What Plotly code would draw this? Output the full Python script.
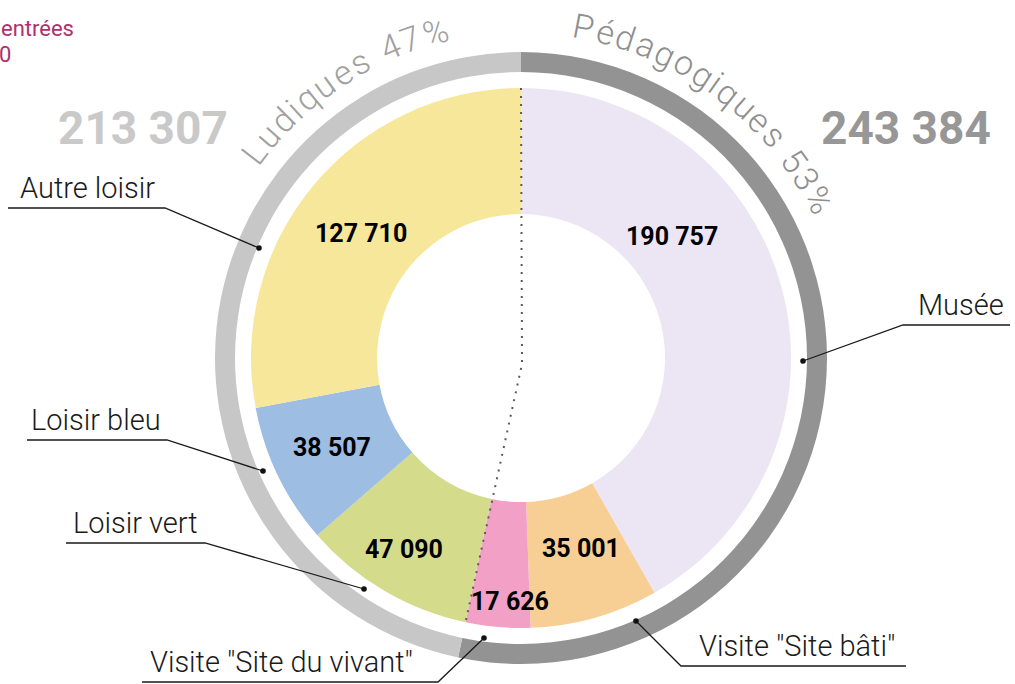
import math
import plotly.graph_objects as go

# ---------------- data ----------------
categories = ["Musée", 'Visite "Site bâti"', 'Visite "Site du vivant"',
              "Loisir vert", "Loisir bleu", "Autre loisir"]
entries = [190757, 35001, 17626, 47090, 38507, 127710]
groups = ["Pédagogiques", "Pédagogiques", "Pédagogiques",
          "Ludiques", "Ludiques", "Ludiques"]
group_names = ["Pédagogiques", "Ludiques"]
title_lines = ["entrées", "0"]

# ---------------- styles ----------------
slice_colors = ["#ece6f4", "#f7cf95", "#f2a0c6", "#d4dc8c", "#9dbde3", "#f7e79b"]
group_colors = ["#939393", "#c7c7c7"]
group_text_colors = ["#8f8f8f", "#a0a0a0"]
total_colors = ["#979797", "#c9c9c9"]

W, H = 1015, 684
CX, CY = 521, 358
R_PIE, R_HOLE = 270, 144
R_RING_OUT, R_RING_IN = 306, 286

# label layout (pixel positions of texts / leader lines)
value_label_pos = [(672, 236), (581, 548), (510, 601), (404, 549), (332, 447), (361, 234)]
callouts = [  # dot, elbow, end of underline, text centre x
    ((803, 361), (903, 325), (1010, 325), 961),
    ((636, 621), (681, 666), (906, 666), 797),
    ((484, 638), (438, 682), (142, 682), 281),
    ((364, 589), (205, 543), (66, 543), 135),
    ((263, 471), (167, 440), (27, 440), 96),
    ((259, 248), (165, 208), (8, 208), 87),
]
group_arc = [(8.7, 64.5), (305.7, 347.8)]   # angular span of curved group labels
total_pos = [(906, 128), (143, 128)]

# ---------------- derived ----------------
total = sum(entries)
group_totals = [sum(v for v, g in zip(entries, groups) if g == n) for n in group_names]
group_pct = [round(100 * t / total) for t in group_totals]


def fmt(n):
    return f"{n:,}".replace(",", " ")


def px(x):
    return x / W


def py(y):
    return 1 - y / H


fig = go.Figure()

# outer ring: groups
fig.add_trace(go.Pie(
    values=group_totals, labels=group_names, sort=False, direction="clockwise",
    rotation=0, hole=R_RING_IN / R_RING_OUT,
    marker=dict(colors=group_colors, line=dict(width=0)),
    textinfo="none", hoverinfo="skip",
    domain=dict(x=[px(CX - R_RING_OUT), px(CX + R_RING_OUT)],
                y=[py(CY + R_RING_OUT), py(CY - R_RING_OUT)]),
))

# main donut
fig.add_trace(go.Pie(
    values=entries, labels=categories, sort=False, direction="clockwise",
    rotation=0, hole=R_HOLE / R_PIE,
    marker=dict(colors=slice_colors, line=dict(width=0)),
    textinfo="none", hoverinfo="skip",
    domain=dict(x=[px(CX - R_PIE), px(CX + R_PIE)],
                y=[py(CY + R_PIE), py(CY - R_PIE)]),
))

annotations = []
shapes = []

# value labels
for v, (x, y) in zip(entries, value_label_pos):
    annotations.append(dict(
        text=fmt(v), x=px(x), y=py(y), xref="paper", yref="paper",
        xanchor="center", yanchor="middle", showarrow=False,
        font=dict(family="Roboto", size=25, color="#000000", weight="bold")))

# callouts
for cat, (dot, elbow, end, tx) in zip(categories, callouts):
    shapes.append(dict(
        type="path", xref="paper", yref="paper", layer="above",
        path=f"M {px(dot[0])} {py(dot[1])} L {px(elbow[0])} {py(elbow[1])} "
             f"L {px(end[0])} {py(end[1])}",
        line=dict(color="#1a1a1a", width=1.3)))
    r = 2.8
    shapes.append(dict(
        type="circle", xref="paper", yref="paper", layer="above",
        x0=px(dot[0] - r), x1=px(dot[0] + r), y0=py(dot[1] + r), y1=py(dot[1] - r),
        fillcolor="#111111", line=dict(width=0)))
    annotations.append(dict(
        text=cat, x=px(tx), y=py(end[1] - 1), xref="paper", yref="paper",
        xanchor="center", yanchor="bottom", showarrow=False,
        font=dict(family="Roboto", size=29, color="#1a1a1a", weight=300)))

# dotted separator between groups (top -> centre -> group boundary)
a = 2 * math.pi * group_totals[0] / total
x_end = CX + R_PIE * math.sin(a)
y_end = CY - R_PIE * math.cos(a)
shapes.append(dict(
    type="path", xref="paper", yref="paper", layer="above",
    path=f"M {px(CX)} {py(CY - R_PIE)} L {px(CX + 1)} {py(CY + 6)} L {px(x_end)} {py(y_end)}",
    line=dict(color="#5a5a5a", width=2, dash="2px,6px")))

# curved group labels
CHAR_W = {"P": .63, "é": .53, "d": .56, "a": .54, "g": .56, "o": .57, "i": .24,
          "q": .56, "u": .55, "e": .53, "s": .52, " ": .30, "5": .56, "3": .56,
          "%": .73, "L": .54, "4": .56, "7": .56}
R_TEXT = 337
for name, pct, (th0, th1), col in zip(group_names, group_pct, group_arc, group_text_colors):
    txt = f"{name} {pct}%"
    ws = [CHAR_W.get(c, .55) for c in txt]
    tot = sum(ws)
    cum = 0.0
    for ch, w in zip(txt, ws):
        frac = (cum + w / 2) / tot
        cum += w
        if ch == " ":
            continue
        th = th0 + frac * (th1 - th0)
        rad = math.radians(th)
        x = CX + R_TEXT * math.sin(rad)
        y = CY - R_TEXT * math.cos(rad)
        annotations.append(dict(
            text=ch, x=px(x), y=py(y), xref="paper", yref="paper",
            xanchor="center", yanchor="middle", showarrow=False,
            textangle=((th + 180) % 360) - 180,
            font=dict(family="Roboto", size=34, color=col, weight=300)))

# group totals
for t, (x, y), col in zip(group_totals, total_pos, total_colors):
    annotations.append(dict(
        text=fmt(t), x=px(x), y=py(y), xref="paper", yref="paper",
        xanchor="center", yanchor="middle", showarrow=False,
        font=dict(family="Roboto", size=46, color=col, weight="bold")))

# clipped title (top-left)
annotations.append(dict(
    text=title_lines[0], x=px(-1), y=py(28), xref="paper", yref="paper",
    xanchor="left", yanchor="middle", showarrow=False,
    font=dict(family="Roboto", size=22, color="#b0306e")))
annotations.append(dict(
    text=title_lines[1], x=px(-3), y=py(55), xref="paper", yref="paper",
    xanchor="left", yanchor="middle", showarrow=False,
    font=dict(family="Roboto", size=22, color="#b0306e")))

fig.update_layout(
    width=W, height=H, margin=dict(l=0, r=0, t=0, b=0),
    paper_bgcolor="white", plot_bgcolor="white", showlegend=False,
    annotations=annotations, shapes=shapes,
)

fig.write_html("out.html", config={"displayModeBar": False},
               post_script="document.body.style.margin='0px';document.body.style.overflow='hidden';")
